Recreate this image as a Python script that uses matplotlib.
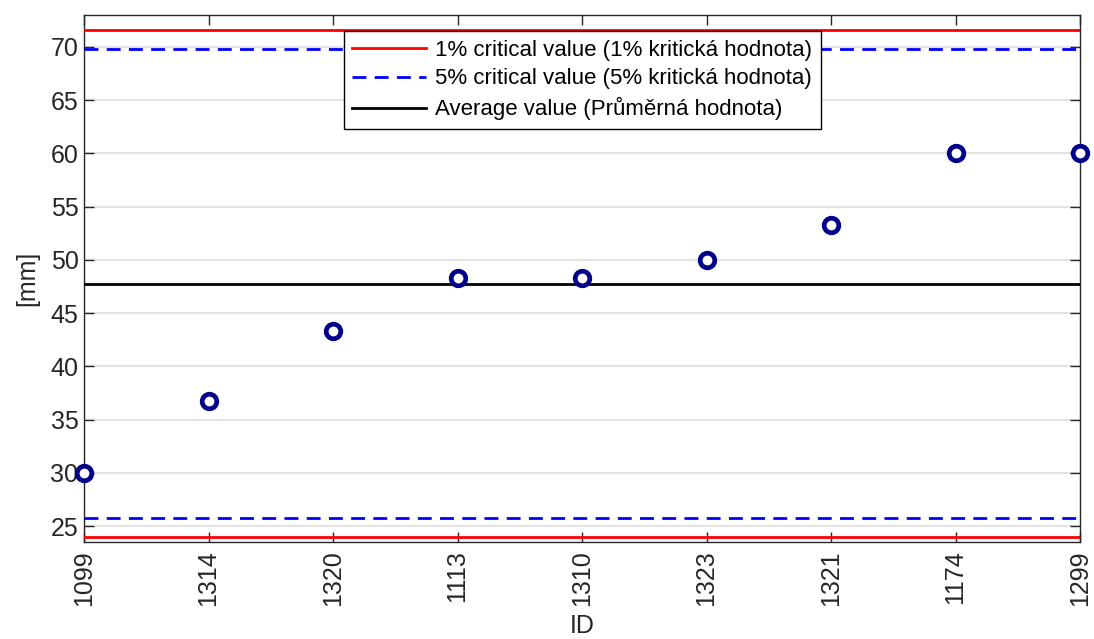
import numpy as np
import matplotlib
matplotlib.use("Agg")
import matplotlib.pyplot as plt

plt.rcParams['font.family'] = ['Liberation Sans', 'DejaVu Sans']

# Measured values per sample ID
ids = ['1099', '1314', '1320', '1113', '1310', '1323', '1321', '1174', '1299']
values = [30.0, 36.7, 43.3, 48.3, 48.3, 50.0, 53.3, 60.0, 60.0]

# Reference levels
mean_value = 47.77
crit_1_upper = 71.57
crit_1_lower = 23.97
crit_5_upper = 69.82
crit_5_lower = 25.72

x = np.arange(len(ids))
ink = '#262626'

fig = plt.figure(figsize=(10.94, 6.39), dpi=100)
ax = fig.add_axes([84 / 1094, 1 - 542 / 639, (1080 - 84) / 1094, (542 - 15) / 639])

ax.axhline(crit_1_upper, color='red', lw=2, label='1% critical value (1% kritická hodnota)', zorder=3)
ax.axhline(crit_5_upper, color='blue', lw=2, ls=(0, (5, 3)), label='5% critical value (5% kritická hodnota)', zorder=3)
ax.axhline(mean_value, color='black', lw=2, label='Average value (Průměrná hodnota)', zorder=3)
ax.axhline(crit_5_lower, color='blue', lw=2, ls=(0, (5, 3)), zorder=3)
ax.axhline(crit_1_lower, color='red', lw=2, zorder=3)

ax.plot(x, values, 'o', ms=10.5, mew=3.4, mfc='white', mec='#00008B', zorder=5, clip_on=False)

ax.set_xlim(0, len(ids) - 1)
ax.set_ylim(23.5, 73)
ax.set_xticks(x)
ax.set_xticklabels(ids, rotation=90)
ax.set_yticks(np.arange(25, 71, 5))

ax.yaxis.grid(True, color='#e3e3e3', lw=1.5, zorder=0)
ax.set_axisbelow(True)
ax.tick_params(direction='in', length=7.5, width=1, colors=ink, labelsize=18,
               top=True, right=True, pad=4)
ax.tick_params(axis='x', pad=6)
for sp in ax.spines.values():
    sp.set_color(ink)
    sp.set_linewidth(1)

ax.set_xlabel('ID', fontsize=18, color=ink, labelpad=6)
ax.set_ylabel('[mm]', fontsize=18, color=ink, labelpad=8)

leg = ax.legend(loc='upper center', bbox_to_anchor=(0.5, 1.0 - 0.030), fontsize=16,
                frameon=True, fancybox=False, framealpha=1, edgecolor='black',
                handlelength=3.3, handletextpad=0.4, borderpad=0.4, labelspacing=0.35,
                borderaxespad=0)
leg.get_frame().set_linewidth(1)
leg.set_zorder(10)

fig.savefig('out.png', dpi=100)
